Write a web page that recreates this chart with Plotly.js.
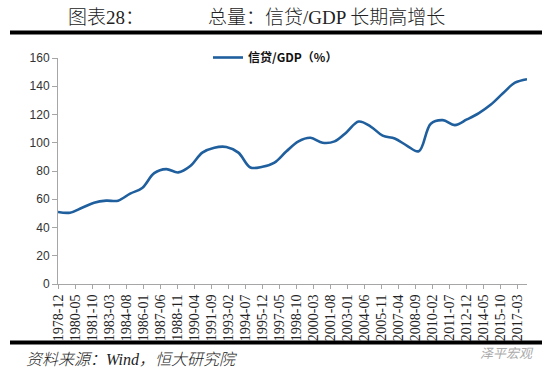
<!DOCTYPE html>
<html>
<head>
<meta charset="utf-8">
<script src="https://cdn.plot.ly/plotly-3.0.1.min.js"></script>
<style>html,body{margin:0;padding:0;background:#fff;}#chart{width:550px;height:378px;}</style>
</head>
<body>
<div id="chart"></div>
<script>
// Data (annual, December of each year)
var years = [1978,1979,1980,1981,1982,1983,1984,1985,1986,1987,1988,1989,1990,1991,1992,1993,1994,1995,1996,1997,1998,1999,2000,2001,2002,2003,2004,2005,2006,2007,2008,2009,2010,2011,2012,2013,2014,2015,2016,2017];
var creditToGdp = [51,50.5,54,57.5,59,59,64,68,78.5,81.3,79,83.5,93,96.5,97,93,82.5,83,86,94,101,103.5,100,101,107.5,115,111.5,105,103,98,94,113.5,116,112.5,116.5,121,127,135,142.5,145];
var tickLabels = ["1978-12","1980-05","1981-10","1983-03","1984-08","1986-01","1987-06","1988-11","1990-04","1991-09","1993-02","1994-07","1995-12","1997-05","1998-10","2000-03","2001-08","2003-01","2004-06","2005-11","2007-04","2008-09","2010-02","2011-07","2012-12","2014-05","2015-10","2017-03"];
var seriesName = "信贷/GDP（%）";
var titleLeft = "图表28：";
var titleRight = "总量：信贷/GDP 长期高增长";
var sourceText = "资料来源：Wind，恒大研究院";
var watermark = "泽平宏观";

var xDates = years.map(function(y){ return y + "-12-01"; });
var tickVals = tickLabels.map(function(t){ return t + "-01"; });

// plot area in pixels: left 58, right 527, top 57.5, bottom 284.3
var L = 58, R = 527, T = 57.5, B = 284.3;
function px(x){ return (x - L) / (R - L); }
function py(y){ return (B - y) / (B - T); }

var trace = {
  x: xDates,
  y: creditToGdp,
  type: "scatter",
  mode: "lines",
  name: seriesName,
  line: {color: "#1f5f9e", width: 2.6, shape: "spline", smoothing: 1}
};

var layout = {
  width: 550, height: 378,
  margin: {l: L, r: 550 - R, t: T, b: 378 - B, pad: 0},
  paper_bgcolor: "#ffffff",
  plot_bgcolor: "#ffffff",
  showlegend: true,
  legend: {
    x: px(208), y: py(57), xanchor: "left", yanchor: "middle",
    orientation: "h",
    font: {family: "Noto Sans CJK SC", size: 12, color: "#111", weight: 700},
    bgcolor: "rgba(0,0,0,0)"
  },
  xaxis: {
    type: "date",
    range: [xDates[0], xDates[xDates.length - 1]],
    tickmode: "array",
    tickvals: tickVals,
    ticktext: tickLabels,
    tickangle: -90,
    ticks: "outside", ticklen: 4, tickcolor: "#a6a6a6",
    showline: true, linecolor: "#a6a6a6", linewidth: 1,
    showgrid: false, zeroline: false,
    tickfont: {family: "Liberation Serif", size: 14, color: "#222"},
    fixedrange: true
  },
  yaxis: {
    range: [0, 160],
    tickmode: "array",
    tickvals: [0,20,40,60,80,100,120,140,160],
    ticks: "outside", ticklen: 5, tickcolor: "#a6a6a6",
    showline: true, linecolor: "#a6a6a6", linewidth: 1,
    showgrid: false, zeroline: false,
    tickfont: {family: "Liberation Sans", size: 12, color: "#333"},
    fixedrange: true
  },
  shapes: [
    {type: "line", xref: "paper", yref: "paper", x0: px(10), x1: px(542), y0: py(32), y1: py(32), line: {color: "#000", width: 4}},
    {type: "line", xref: "paper", yref: "paper", x0: px(10), x1: px(542), y0: py(343), y1: py(343), line: {color: "#000", width: 4}}
  ],
  annotations: [
    {xref: "paper", yref: "paper", x: px(66), y: py(17), xanchor: "left", yanchor: "middle", showarrow: false,
     text: titleLeft, font: {family: "Liberation Serif, Noto Sans CJK SC", size: 19, color: "#222", weight: 300}},
    {xref: "paper", yref: "paper", x: px(206), y: py(17), xanchor: "left", yanchor: "middle", showarrow: false,
     text: titleRight, font: {family: "Liberation Serif, Noto Sans CJK SC", size: 19, color: "#222", weight: 300}},
    {xref: "paper", yref: "paper", x: px(24), y: py(360), xanchor: "left", yanchor: "middle", showarrow: false,
     text: "<i>" + sourceText + "</i>", font: {family: "Liberation Serif, Noto Sans CJK SC", size: 16, color: "#222", weight: 300}},
    {xref: "paper", yref: "paper", x: px(478), y: py(353), xanchor: "left", yanchor: "middle", showarrow: false,
     text: "<i>" + watermark + "</i>", font: {family: "Noto Sans CJK SC", size: 13, color: "#aaa"}}
  ]
};

Plotly.newPlot("chart", [trace], layout, {displayModeBar: false, staticPlot: true});
</script>
</body>
</html>
